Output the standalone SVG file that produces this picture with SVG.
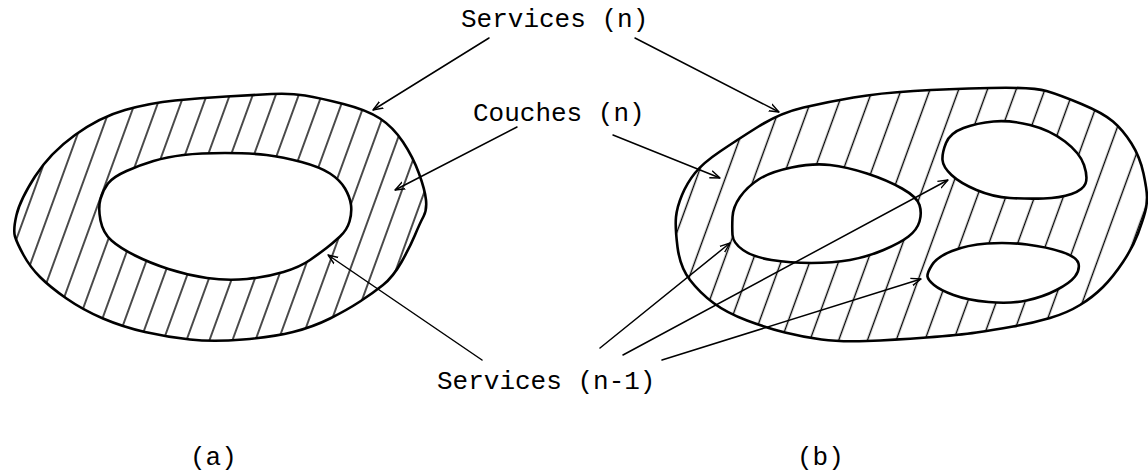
<svg xmlns="http://www.w3.org/2000/svg" width="1148" height="472" viewBox="0 0 1148 472">
<style>
.outline{fill:none;stroke:#000;stroke-width:2.6;stroke-linejoin:round}
.conn{fill:none;stroke:#000;stroke-width:1.5;stroke-linecap:round}
.lbl{font-family:"Liberation Mono","Courier New",monospace;font-size:26px;fill:#000}
</style>
<defs>
<pattern id="hatchA" patternUnits="userSpaceOnUse" width="21.6" height="40" patternTransform="rotate(20)">
<line x1="10.8" y1="-2" x2="10.8" y2="42" stroke="#000" stroke-width="1.4"/>
</pattern>
<pattern id="hatchB" patternUnits="userSpaceOnUse" width="27" height="40" patternTransform="rotate(20)">
<line x1="13.5" y1="-2" x2="13.5" y2="42" stroke="#000" stroke-width="1.4"/>
</pattern>
<marker id="arr" viewBox="0 0 10 10" refX="10" refY="5" markerWidth="10" markerHeight="10" markerUnits="userSpaceOnUse" orient="auto">
<path d="M0,1.2 L10,5 L0,8.8" fill="none" stroke="#000" stroke-width="1.4"/>
</marker>
</defs>
<rect width="1148" height="472" fill="#fff"/>

<g id="diagram-a">
<path fill="url(#hatchA)" fill-rule="evenodd" d="M15,236.5 Q13,230 16.5,215 Q20,200 35,176.5 Q50,153 75,135 Q100,117 125,110 Q150,103 175,100.5 Q200,98 226.5,96.5 Q253,95 271.5,94 Q290,93 305,95.5 Q320,98 343.5,104 Q367,110 380,118.5 Q393,127 403,142 Q413,157 419,173.5 Q425,190 426,200 Q427,210 423.5,216.5 Q420,223 415,235 Q410,247 401.5,262 Q393,277 383,285 Q373,293 360,301.5 Q347,310 330,318.5 Q313,327 293,332 Q273,337 243,339.5 Q213,342 190,339.5 Q167,337 145,332 Q123,327 103,318.5 Q83,310 66.5,298.5 Q50,287 40,277 Q30,267 23.5,255 Q17,243 15,236.5 Z M100.5,220.5 Q98,208 100.5,199 Q103,190 108,183.5 Q113,177 126.5,171 Q140,165 153.5,161 Q167,157 183.5,155 Q200,153 225,153 Q250,153 266.5,155 Q283,157 301.5,162 Q320,167 330,173.5 Q340,180 345,188.5 Q350,197 351,205 Q352,213 349.5,221.5 Q347,230 340,236.5 Q333,243 326.5,248 Q320,253 310,260 Q300,267 283.5,272 Q267,277 247,279 Q227,281 207,278 Q187,275 168.5,269 Q150,263 135,255.5 Q120,248 111.5,240.5 Q103,233 100.5,220.5 Z"/>
<path class="outline" d="M15,236.5 Q13,230 16.5,215 Q20,200 35,176.5 Q50,153 75,135 Q100,117 125,110 Q150,103 175,100.5 Q200,98 226.5,96.5 Q253,95 271.5,94 Q290,93 305,95.5 Q320,98 343.5,104 Q367,110 380,118.5 Q393,127 403,142 Q413,157 419,173.5 Q425,190 426,200 Q427,210 423.5,216.5 Q420,223 415,235 Q410,247 401.5,262 Q393,277 383,285 Q373,293 360,301.5 Q347,310 330,318.5 Q313,327 293,332 Q273,337 243,339.5 Q213,342 190,339.5 Q167,337 145,332 Q123,327 103,318.5 Q83,310 66.5,298.5 Q50,287 40,277 Q30,267 23.5,255 Q17,243 15,236.5 Z"/>
<path class="outline" d="M100.5,220.5 Q98,208 100.5,199 Q103,190 108,183.5 Q113,177 126.5,171 Q140,165 153.5,161 Q167,157 183.5,155 Q200,153 225,153 Q250,153 266.5,155 Q283,157 301.5,162 Q320,167 330,173.5 Q340,180 345,188.5 Q350,197 351,205 Q352,213 349.5,221.5 Q347,230 340,236.5 Q333,243 326.5,248 Q320,253 310,260 Q300,267 283.5,272 Q267,277 247,279 Q227,281 207,278 Q187,275 168.5,269 Q150,263 135,255.5 Q120,248 111.5,240.5 Q103,233 100.5,220.5 Z"/>
</g>

<g id="diagram-b">
<path fill="url(#hatchB)" fill-rule="evenodd" d="M677.5,247 Q675,227 676,217 Q677,207 682,195 Q687,183 695,173 Q703,163 720,151.5 Q737,140 758.5,126.5 Q780,113 803.5,107.5 Q827,102 853.5,97.5 Q880,93 913.5,91 Q947,89 990,88 Q1033,87 1046.5,91 Q1060,95 1081.5,104 Q1103,113 1113,121.5 Q1123,130 1131.5,143.5 Q1140,157 1143.5,173.5 Q1147,190 1147,197.5 Q1147,205 1145,212.5 Q1143,220 1138,233.5 Q1133,247 1123,262 Q1113,277 1103,287 Q1093,297 1080,305 Q1067,313 1050,318 Q1033,323 1013,326.5 Q993,330 976.5,332.5 Q960,335 926.5,337.5 Q893,340 866.5,341 Q840,342 821.5,339.5 Q803,337 785,332.5 Q767,328 747,320.5 Q727,313 713.5,303 Q700,293 690,280 Q680,267 677.5,247 Z M732.5,235 Q732,227 732.5,217 Q733,207 740,197 Q747,187 758.5,179.5 Q770,172 791.5,167.5 Q813,163 830,165 Q847,167 867,173.5 Q887,180 902,188.5 Q917,197 919.5,205 Q922,213 919.5,221.5 Q917,230 908.5,236.5 Q900,243 883.5,250 Q867,257 850,260 Q833,263 811.5,263 Q790,263 771.5,260 Q753,257 743,250 Q733,243 732.5,235 Z M942.5,160 Q942,153 946,143 Q950,133 963.5,128 Q977,123 993.5,121.5 Q1010,120 1030,125 Q1050,130 1065,141.5 Q1080,153 1084,165 Q1088,177 1085.5,183.5 Q1083,190 1071.5,194 Q1060,198 1043.5,198.5 Q1027,199 1010,198 Q993,197 976.5,190 Q960,183 951.5,175 Q943,167 942.5,160 Z M927.5,276.5 Q927,273 932,265 Q937,257 952,251 Q967,245 987,243.5 Q1007,242 1027,244.5 Q1047,247 1062,252 Q1077,257 1078.5,263.5 Q1080,270 1075,276.5 Q1070,283 1056.5,290 Q1043,297 1026.5,300.5 Q1010,304 988.5,302 Q967,300 953.5,295 Q940,290 934,285 Q928,280 927.5,276.5 Z"/>
<path class="outline" d="M677.5,247 Q675,227 676,217 Q677,207 682,195 Q687,183 695,173 Q703,163 720,151.5 Q737,140 758.5,126.5 Q780,113 803.5,107.5 Q827,102 853.5,97.5 Q880,93 913.5,91 Q947,89 990,88 Q1033,87 1046.5,91 Q1060,95 1081.5,104 Q1103,113 1113,121.5 Q1123,130 1131.5,143.5 Q1140,157 1143.5,173.5 Q1147,190 1147,197.5 Q1147,205 1145,212.5 Q1143,220 1138,233.5 Q1133,247 1123,262 Q1113,277 1103,287 Q1093,297 1080,305 Q1067,313 1050,318 Q1033,323 1013,326.5 Q993,330 976.5,332.5 Q960,335 926.5,337.5 Q893,340 866.5,341 Q840,342 821.5,339.5 Q803,337 785,332.5 Q767,328 747,320.5 Q727,313 713.5,303 Q700,293 690,280 Q680,267 677.5,247 Z"/>
<path class="outline" d="M732.5,235 Q732,227 732.5,217 Q733,207 740,197 Q747,187 758.5,179.5 Q770,172 791.5,167.5 Q813,163 830,165 Q847,167 867,173.5 Q887,180 902,188.5 Q917,197 919.5,205 Q922,213 919.5,221.5 Q917,230 908.5,236.5 Q900,243 883.5,250 Q867,257 850,260 Q833,263 811.5,263 Q790,263 771.5,260 Q753,257 743,250 Q733,243 732.5,235 Z"/>
<path class="outline" d="M942.5,160 Q942,153 946,143 Q950,133 963.5,128 Q977,123 993.5,121.5 Q1010,120 1030,125 Q1050,130 1065,141.5 Q1080,153 1084,165 Q1088,177 1085.5,183.5 Q1083,190 1071.5,194 Q1060,198 1043.5,198.5 Q1027,199 1010,198 Q993,197 976.5,190 Q960,183 951.5,175 Q943,167 942.5,160 Z"/>
<path class="outline" d="M927.5,276.5 Q927,273 932,265 Q937,257 952,251 Q967,245 987,243.5 Q1007,242 1027,244.5 Q1047,247 1062,252 Q1077,257 1078.5,263.5 Q1080,270 1075,276.5 Q1070,283 1056.5,290 Q1043,297 1026.5,300.5 Q1010,304 988.5,302 Q967,300 953.5,295 Q940,290 934,285 Q928,280 927.5,276.5 Z"/>
</g>

<g id="connectors">
<line class="conn" x1="489" y1="38" x2="373" y2="110" marker-end="url(#arr)"/>
<line class="conn" x1="635" y1="38" x2="779" y2="112" marker-end="url(#arr)"/>
<line class="conn" x1="517" y1="127" x2="395" y2="190" marker-end="url(#arr)"/>
<line class="conn" x1="613" y1="135" x2="720" y2="178" marker-end="url(#arr)"/>
<line class="conn" x1="482" y1="360" x2="328" y2="255" marker-end="url(#arr)"/>
<line class="conn" x1="600" y1="348" x2="730" y2="243" marker-end="url(#arr)"/>
<line class="conn" x1="623" y1="355" x2="948" y2="180" marker-end="url(#arr)"/>
<line class="conn" x1="662" y1="360" x2="921" y2="279" marker-end="url(#arr)"/>
</g>

<g id="label-services-n"><text class="lbl" x="461" y="27">Services (n)</text></g>
<g id="label-couches-n"><text class="lbl" x="473" y="121">Couches (n)</text></g>
<g id="label-services-n-1"><text class="lbl" x="437" y="389">Services (n-1)</text></g>
<g id="label-a"><text class="lbl" x="190" y="465">(a)</text></g>
<g id="label-b"><text class="lbl" x="797" y="465">(b)</text></g>
</svg>
